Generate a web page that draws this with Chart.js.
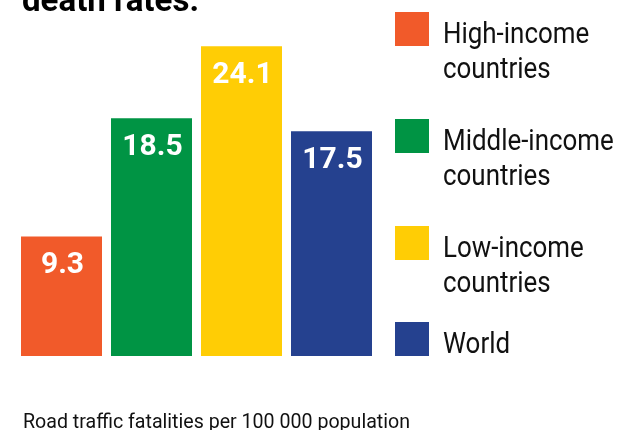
<!DOCTYPE html>
<html>
<head>
<meta charset="utf-8">
<script src="https://cdn.jsdelivr.net/npm/chart.js@4.4.1/dist/chart.umd.min.js"></script>
<style>
  html, body { margin: 0; padding: 0; background: #fff; }
  #wrap { width: 636px; height: 430px; position: relative; overflow: hidden; }
</style>
</head>
<body>
<div id="wrap"><canvas id="chart" width="636" height="430"></canvas></div>
<script>
// data
var categories = ["High-income countries", "Middle-income countries", "Low-income countries", "World"];
var legendLines = [["High-income", "countries"], ["Middle-income", "countries"], ["Low-income", "countries"], ["World"]];
var deathRates = [9.3, 18.5, 24.1, 17.5];
var barColors = ["#F15A2A", "#009444", "#FFCD05", "#25418F"];
var titleText = "death rates.";
var footText = "Road traffic fatalities per 100 000 population";

// squeeze text to a given width (the original uses a condensed face)
function fitText(ctx, txt, x, y, w) {
    var m = ctx.measureText(txt).width;
    ctx.save();
    ctx.translate(x, y);
    ctx.scale(w / m, 1);
    ctx.fillText(txt, 0, 0);
    ctx.restore();
}

var extrasPlugin = {
    id: "extras",
    afterDatasetsDraw: function(chart) {
        var ctx = chart.ctx;
        var meta = chart.getDatasetMeta(0);
        ctx.save();
        // value labels inside the bars
        ctx.fillStyle = "#fff";
        ctx.font = "bold 30px Roboto";
        ctx.textAlign = "center";
        ctx.textBaseline = "alphabetic";
        meta.data.forEach(function(bar, i) {
            ctx.fillText(deathRates[i].toFixed(1), bar.x + 1, bar.y + 37);
        });
        ctx.restore();
    },
    afterDraw: function(chart) {
        var ctx = chart.ctx;
        ctx.save();
        ctx.textAlign = "left";
        ctx.textBaseline = "alphabetic";
        ctx.fillStyle = "#000";

        // clipped title at the top
        ctx.font = "bold 34px Roboto";
        fitText(ctx, titleText, 22, 10.5, 177);

        // legend
        var tops = [12, 119, 226, 322];
        ctx.font = "30px Roboto";
        var sx = (150 + 167) / (ctx.measureText("High-income").width + ctx.measureText("Middle-income").width);
        legendLines.forEach(function(lines, i) {
            ctx.fillStyle = barColors[i];
            ctx.fillRect(395, tops[i], 34, 34);
            ctx.fillStyle = "#111";
            lines.forEach(function(t, j) {
                fitText(ctx, t, 443, tops[i] + 31 + j * 35, ctx.measureText(t).width * sx);
            });
        });

        // footnote, descenders cut off at the bottom
        ctx.font = "20px Roboto";
        ctx.fillStyle = "#111";
        fitText(ctx, footText, 23, 428, 387);
        ctx.restore();
    }
};

new Chart(document.getElementById("chart"), {
    type: "bar",
    data: {
        labels: categories,
        datasets: [{
            data: deathRates,
            backgroundColor: barColors,
            borderWidth: 0,
            barPercentage: 0.9,
            categoryPercentage: 1.0
        }]
    },
    options: {
        responsive: false,
        animation: false,
        layout: { padding: { left: 16.5, right: 259.5, top: 34.75, bottom: 74 } },
        plugins: { legend: { display: false }, tooltip: { enabled: false }, title: { display: false } },
        scales: {
            x: { display: false },
            y: { display: false, min: 0, max: 25 }
        }
    },
    plugins: [extrasPlugin]
});
</script>
</body>
</html>
